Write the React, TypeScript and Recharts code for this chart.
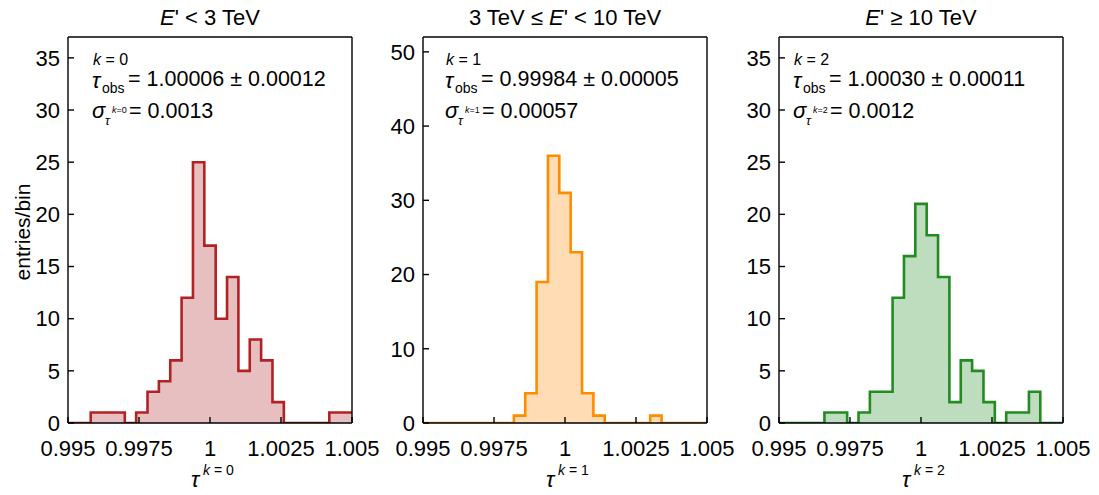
import React from 'react';
import { ComposedChart, Area, XAxis, YAxis } from 'recharts';

const BIN_START = 0.995;
const BIN_WIDTH = 0.0004;
const countsLow = [0, 0, 1, 1, 1, 0, 1, 3, 4, 6, 12, 25, 17, 10, 14, 5, 8, 6, 2, 0, 0, 0, 0, 1, 1];
const countsMid = [0, 0, 0, 0, 0, 0, 0, 0, 1, 4, 19, 36, 31, 23, 4, 1, 0, 0, 0, 0, 1, 0, 0, 0, 0];
const countsHigh = [0, 0, 0, 0, 1, 1, 0, 1, 3, 3, 12, 16, 21, 18, 14, 2, 6, 5, 2, 0, 1, 1, 3, 0, 0];

const xTicks = [0.995, 0.9975, 1, 1.0025, 1.005];
const xTickLabels = ['0.995', '0.9975', '1', '1.0025', '1.005'];
const yTicks35 = [0, 5, 10, 15, 20, 25, 30, 35];
const yTicks50 = [0, 10, 20, 30, 40, 50];

const kLabels = ['0', '1', '2'];
const tauObs = ['1.00006 ± 0.00012', '0.99984 ± 0.00005', '1.00030 ± 0.00011'];
const sigmaTau = ['0.0013', '0.00057', '0.0012'];

const FONT = '"Liberation Sans", Arial, Helvetica, sans-serif';

function buildData(counts: number[]) {
  const pts = [] as { x: number; v: number }[];
  for (let i = 0; i <= counts.length; i++) {
    pts.push({ x: Number((BIN_START + i * BIN_WIDTH).toFixed(6)), v: counts[Math.min(i, counts.length - 1)] });
  }
  return pts;
}

const fmtX = (v: number) => {
  const idx = xTicks.findIndex((t) => Math.abs(t - v) < 1e-9);
  return idx >= 0 ? xTickLabels[idx] : String(v);
};

const axisLine = { stroke: '#000', strokeWidth: 1.4 };
const tickLine = { stroke: '#000', strokeWidth: 1.4 };

function Panel(props: { counts: number[]; color: string; fill: string; yMax: number; yTicks: number[]; left: number }) {
  const { counts, color, fill, yMax, yTicks, left } = props;
  const data = buildData(counts);
  return (
    <div style={{ position: 'absolute', left, top: 0 }}>
      <ComposedChart
        width={400}
        height={495}
        data={data}
        margin={{ top: 36, right: 47, bottom: 42, left: 0 }}
        style={{ overflow: 'visible' }}
      >
        <XAxis
          xAxisId="b"
          dataKey="x"
          type="number"
          domain={[0.995, 1.005]}
          ticks={xTicks}
          interval={0}
          allowDataOverflow
          tickFormatter={fmtX}
          tickSize={-6}
          tickMargin={23}
          height={30}
          axisLine={axisLine}
          tickLine={tickLine}
          tick={{ fill: '#000', fontSize: 22, fontFamily: FONT }}
        />
        <XAxis
          xAxisId="t"
          orientation="top"
          dataKey="x"
          type="number"
          domain={[0.995, 1.005]}
          ticks={xTicks}
          interval={0}
          allowDataOverflow
          tick={false}
          tickSize={-6}
          height={1}
          axisLine={axisLine}
          tickLine={tickLine}
        />
        <YAxis
          yAxisId="l"
          type="number"
          domain={[0, yMax]}
          ticks={yTicks}
          interval={0}
          allowDataOverflow
          width={68}
          tickSize={-6}
          tickMargin={14}
          axisLine={axisLine}
          tickLine={tickLine}
          tick={{ fill: '#000', fontSize: 22, fontFamily: FONT }}
        />
        <YAxis
          yAxisId="r"
          orientation="right"
          type="number"
          domain={[0, yMax]}
          ticks={yTicks}
          interval={0}
          allowDataOverflow
          width={1}
          tick={false}
          tickSize={-6}
          axisLine={axisLine}
          tickLine={tickLine}
        />
        <Area
          xAxisId="b"
          yAxisId="l"
          type="stepAfter"
          dataKey="v"
          stroke={color}
          strokeWidth={2.6}
          fill={fill}
          fillOpacity={1}
          dot={false}
          activeDot={false}
          isAnimationActive={false}
        />
      </ComposedChart>
    </div>
  );
}

function Annot({ x0, i }: { x0: number; i: number }) {
  return (
    <g>
      <text x={x0} y={88} fontSize={22}>
        <tspan x={x0} y={88} fontStyle="italic">τ</tspan>
        <tspan x={x0 + 1} y={64.5} fontSize={16}>
          <tspan fontStyle="italic">k</tspan> = {kLabels[i]}
        </tspan>
        <tspan x={x0 + 10} y={93} fontSize={14}>obs</tspan>
        <tspan x={x0 + 36} y={86} fontSize={21.5}>= {tauObs[i]}</tspan>
      </text>
      <text x={x0} y={118} fontSize={22}>
        <tspan x={x0} y={118} fontStyle="italic">σ</tspan>
        <tspan x={x0 + 13} y={125} fontSize={13} fontStyle="italic">τ</tspan>
        <tspan x={x0 + 20} y={113} fontSize={9}>
          <tspan fontStyle="italic">k</tspan>={kLabels[i]}
        </tspan>
        <tspan x={x0 + 37} y={118} fontSize={21.5}>= {sigmaTau[i]}</tspan>
      </text>
    </g>
  );
}

function XLabel({ cx, i }: { cx: number; i: number }) {
  return (
    <text x={cx - 19} y={487} fontSize={22}>
      <tspan x={cx - 19} y={487} fontStyle="italic">τ</tspan>
      <tspan x={cx - 7} y={475} fontSize={14}>
        <tspan fontStyle="italic">k</tspan> = {kLabels[i]}
      </tspan>
    </text>
  );
}

export default function App() {
  return (
    <div style={{ position: 'absolute', left: 0, top: 0, width: 1099, height: 495, background: '#fff', fontFamily: FONT, overflow: 'hidden' }}>
      <Panel counts={countsLow} color="#b22222" fill="#e8bfc0" yMax={37} yTicks={yTicks35} left={0} />
      <Panel counts={countsMid} color="#ff8c00" fill="#ffdcb3" yMax={52} yTicks={yTicks50} left={355} />
      <Panel counts={countsHigh} color="#228b22" fill="#bedcbe" yMax={37} yTicks={yTicks35} left={711} />
      <svg
        width={1099}
        height={495}
        style={{ position: 'absolute', left: 0, top: 0, pointerEvents: 'none' }}
        fontFamily={FONT}
        fill="#000"
      >
        <text x={210} y={25} fontSize={22} textAnchor="middle">
          <tspan fontStyle="italic">E</tspan>' &lt; 3 TeV
        </text>
        <text x={565} y={25} fontSize={22} textAnchor="middle">
          3 TeV ≤ <tspan fontStyle="italic">E</tspan>' &lt; 10 TeV
        </text>
        <text x={921} y={25} fontSize={22} textAnchor="middle">
          <tspan fontStyle="italic">E</tspan>' ≥ 10 TeV
        </text>
        <Annot x0={92} i={0} />
        <Annot x0={445} i={1} />
        <Annot x0={793} i={2} />
        <XLabel cx={210} i={0} />
        <XLabel cx={565} i={1} />
        <XLabel cx={921} i={2} />
        <text x={22} y={232} fontSize={21} textAnchor="middle" dominantBaseline="central" transform="rotate(-90 22 232)">
          entries/bin
        </text>
      </svg>
    </div>
  );
}
